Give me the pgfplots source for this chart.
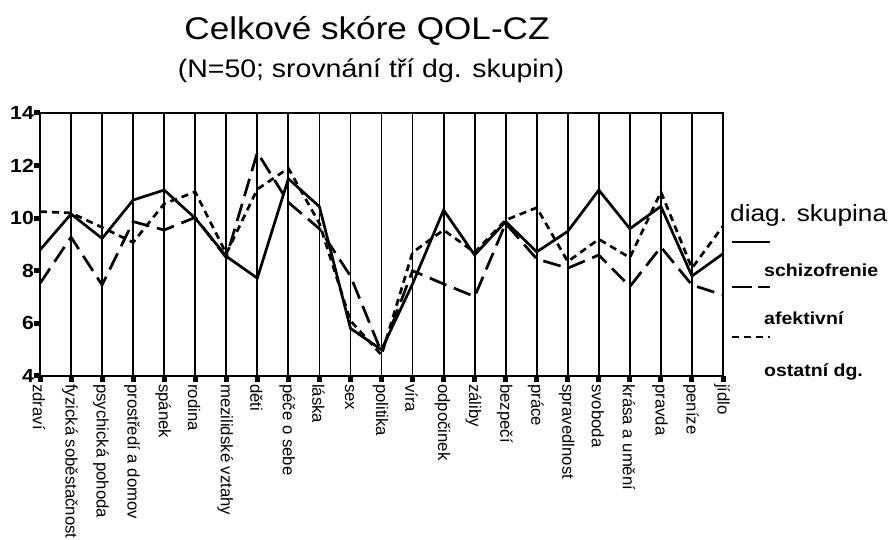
\documentclass[border=0pt]{standalone}
\usepackage{fontspec}
\setmainfont{Liberation Sans}[FakeStretch=1.12]
\newfontfamily\rotfont{Liberation Sans}
\usepackage{pgfplots}
\pgfplotsset{compat=1.18}
\usepackage{pgfplotstable}

\pgfplotstableread{
x S A O
0 8.79 7.52 10.25
1 10.16 9.28 10.20
2 9.23 7.46 9.65
3 10.69 9.87 9.08
4 11.07 9.55 10.55
5 10.00 10.03 11.00
6 8.55 8.50 8.65
7 7.72 12.50 11.10
8 11.50 10.60 11.90
9 10.44 9.60 9.80
10 5.81 7.80 6.10
11 5.00 4.90 4.80
12 7.50 8.00 8.70
13 10.31 7.50 9.55
14 8.60 7.02 8.70
15 9.87 9.80 9.93
16 8.72 8.45 10.40
17 9.50 8.10 8.35
18 11.07 8.60 9.20
19 9.60 7.40 8.50
20 10.45 8.90 11.00
21 7.80 7.46 8.10
22 8.65 7.08 9.70
}\qoldata

\begin{document}
\begin{tikzpicture}[x=1bp,y=1bp]
\useasboundingbox (0,0) rectangle (891,540);
\begin{axis}[
  at={(40bp,164bp)}, anchor=south west,
  scale only axis, width=683bp, height=263bp,
  xmin=0, xmax=22, ymin=4, ymax=14,
  xtick={0,...,22},
  xticklabels={zdraví,fyzická soběstačnost,psychická pohoda,prostředí a domov,spánek,rodina,mezilidské vztahy,děti,péče o sebe,láska,sex,politika,víra,odpočinek,záliby,bezpečí,práce,spravedlnost,svoboda,krása a umění,pravda,peníze,jídlo},
  ytick={4,6,...,14},
  xmajorgrids,
  major grid style={black, line width=1.8bp},
  axis line style={black, line width=2bp},
  tick style={black, line width=5bp},
  major tick length=6bp,
  tick align=outside,
  tick pos=left,
  xticklabel style={font=\rotfont\fontsize{16.8}{17}\selectfont, rotate=-90, anchor=west, inner sep=0pt, yshift=-1bp, xshift=2bp},
  yticklabel style={font=\bfseries\fontsize{19}{19}\selectfont, anchor=east, inner sep=0pt, xshift=0bp},
  /pgf/number format/assume math mode=true,
  clip=false,
]
\addplot[black, line width=2.7bp] table[x=x, y=S] {\qoldata};
\addplot[black, line width=2.7bp, dash pattern=on 18bp off 8bp] table[x=x, y=A] {\qoldata};
\addplot[black, line width=2.7bp, dash pattern=on 7bp off 5bp] table[x=x, y=O] {\qoldata};
\end{axis}
\node[anchor=base, inner sep=0pt, font=\fontsize{31.5}{32}\selectfont] at (367,500) {Celkové skóre QOL-CZ};
\node[anchor=base, inner sep=0pt, font=\fontsize{25.5}{26}\selectfont] at (371,462) {(N=50; srovnání tří dg. skupin)};
\node[anchor=base west, inner sep=0pt, font=\fontsize{23.5}{24}\selectfont] at (730,318) {diag. skupina};
\draw[black, line width=2.4bp] (732,298) -- (770,298);
\node[anchor=base west, inner sep=0pt, font=\bfseries\fontsize{17.5}{18}\selectfont] at (764,263) {schizofrenie};
\draw[black, line width=2.4bp, dash pattern=on 20bp off 6bp] (732,253) -- (770,253);
\node[anchor=base west, inner sep=0pt, font=\bfseries\fontsize{17.5}{18}\selectfont] at (764,215) {afektivní};
\draw[black, line width=2.4bp, dash pattern=on 7bp off 5bp] (732,203) -- (770,203);
\node[anchor=base west, inner sep=0pt, font=\bfseries\fontsize{17.5}{18}\selectfont] at (764,163) {ostatní dg.};
\end{tikzpicture}
\end{document}
